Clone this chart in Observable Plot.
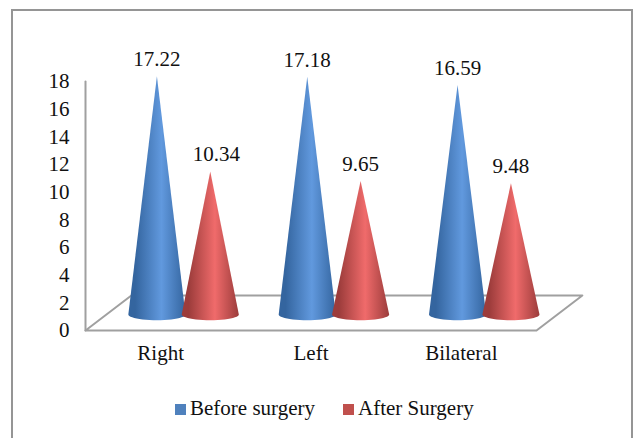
<!DOCTYPE html>
<html><head><meta charset="utf-8">
<script src="https://cdn.jsdelivr.net/npm/d3@7"></script>
<script src="https://cdn.jsdelivr.net/npm/@observablehq/plot@0.6"></script>
<style>
html,body{margin:0;padding:0;background:#fff;overflow:hidden}
#page{position:relative;width:634px;height:438px;font-family:"Liberation Serif",serif;color:#111}
#frame{position:absolute;left:11px;top:9px;width:622px;height:440px;border:2px solid #959595;box-sizing:border-box}
#chart{position:absolute;left:0;top:0}
#legend{position:absolute;left:0;top:395px;width:634px;font-size:21px;line-height:26px}
#legend div{position:absolute;white-space:nowrap}
#legend span.s{display:inline-block;width:11px;height:11px;margin-right:4px;}
</style></head>
<body><div id="page"><div id="frame"></div><div id="chart"></div>
<div id="legend"></div></div>
<script>
const categories = ["Right", "Left", "Bilateral"];
const seriesNames = ["Before surgery", "After Surgery"];
const before = [17.22, 17.18, 16.59];
const after = [10.34, 9.65, 9.48];
const yTicks = [0,2,4,6,8,10,12,14,16,18];
const legendColors = ["#4f81bd", "#c0504d"];

// 3-D look: position of each series within a category and depth of the floor
const coneOffset = [0.475, 0.83];
const coneHalf = 0.19;
const floorLift = 1.16;
const ellipseLift = 0.42;
const depthX = 0.305, depthY = 2.53;

const cones = [];
const labels = [];
[before, after].forEach((vals, s) => vals.forEach((v, c) => {
  const cx = c + coneOffset[s];
  const id = `c${s}${c}`;
  cones.push({id, s, x: cx, y: floorLift + v});
  const n = 24;
  for (let i = 0; i <= n; i++) {
    const t = Math.PI * i / n;
    cones.push({id, s, x: cx + coneHalf * Math.cos(t), y: floorLift - ellipseLift * Math.sin(t)});
  }
  labels.push({x: cx, y: floorLift + v, t: v.toFixed(2), wide: v === after[0]});
}));

const floor = [
  {x: 0, y: 0}, {x: depthX, y: depthY}, {x: 3 + depthX, y: depthY}, {x: 3, y: 0}, {x: 0, y: 0}
];
const wall = [{x: 0, y: 0}, {x: 0, y: 18}];

function grad(id, edge, mid) {
  return `<linearGradient id="${id}" x1="0" x2="1" y1="0" y2="0">
    <stop offset="0" stop-color="${edge}"/><stop offset="0.12" stop-color="${edge}"/>
    <stop offset="0.58" stop-color="${mid}"/><stop offset="1" stop-color="${edge}"/></linearGradient>`;
}

const plot = Plot.plot({
  width: 634, height: 380,
  marginLeft: 85, marginRight: 98, marginTop: 81, marginBottom: 50,
  style: {background: "transparent", fontFamily: "'Liberation Serif',serif", overflow: "visible"},
  x: {type: "linear", domain: [0, 3]},
  y: {type: "linear", domain: [0, 18]},
  marks: [
    () => {
      const g = document.createElementNS("http://www.w3.org/2000/svg", "defs");
      g.innerHTML = grad("gb", "#34659f", "#6199de") + grad("gr", "#9c3c3b", "#f06b6b");
      return g;
    },
    Plot.axisY({ticks: yTicks, tickSize: 0, tickPadding: 16, label: null, fontSize: 21, stroke: "none", fill: "#111"}),
    Plot.axisX({ticks: [0.5, 1.5, 2.5], tickFormat: d => categories[Math.floor(d)], tickSize: 0, tickPadding: 15, label: null, fontSize: 21, fill: "#111"}),
    Plot.line(floor, {x: "x", y: "y", stroke: "#a0a0a0", strokeWidth: 2}),
    Plot.line(wall, {x: "x", y: "y", stroke: "#a0a0a0", strokeWidth: 2}),
    Plot.line(cones.filter(d => d.s === 0), {x: "x", y: "y", z: "id", fill: "url(#gb)", stroke: "none"}),
    Plot.line(cones.filter(d => d.s === 1), {x: "x", y: "y", z: "id", fill: "url(#gr)", stroke: "none"}),
    Plot.text(labels.filter(d => !d.wide), {x: "x", y: "y", text: "t", dy: -17, fontSize: 21, fill: "#111"}),
    Plot.text(labels.filter(d => d.wide), {x: "x", y: "y", text: "t", dy: -17, dx: 6, fontSize: 21, fill: "#111"})
  ]
});
document.getElementById("chart").appendChild(plot);

const leg = document.getElementById("legend");
[[175, 0], [343, 1]].forEach(([left, i]) => {
  const d = document.createElement("div");
  d.style.left = left + "px";
  d.innerHTML = `<span class="s" style="background:${legendColors[i]}"></span>${seriesNames[i]}`;
  leg.appendChild(d);
});
</script></body></html>
